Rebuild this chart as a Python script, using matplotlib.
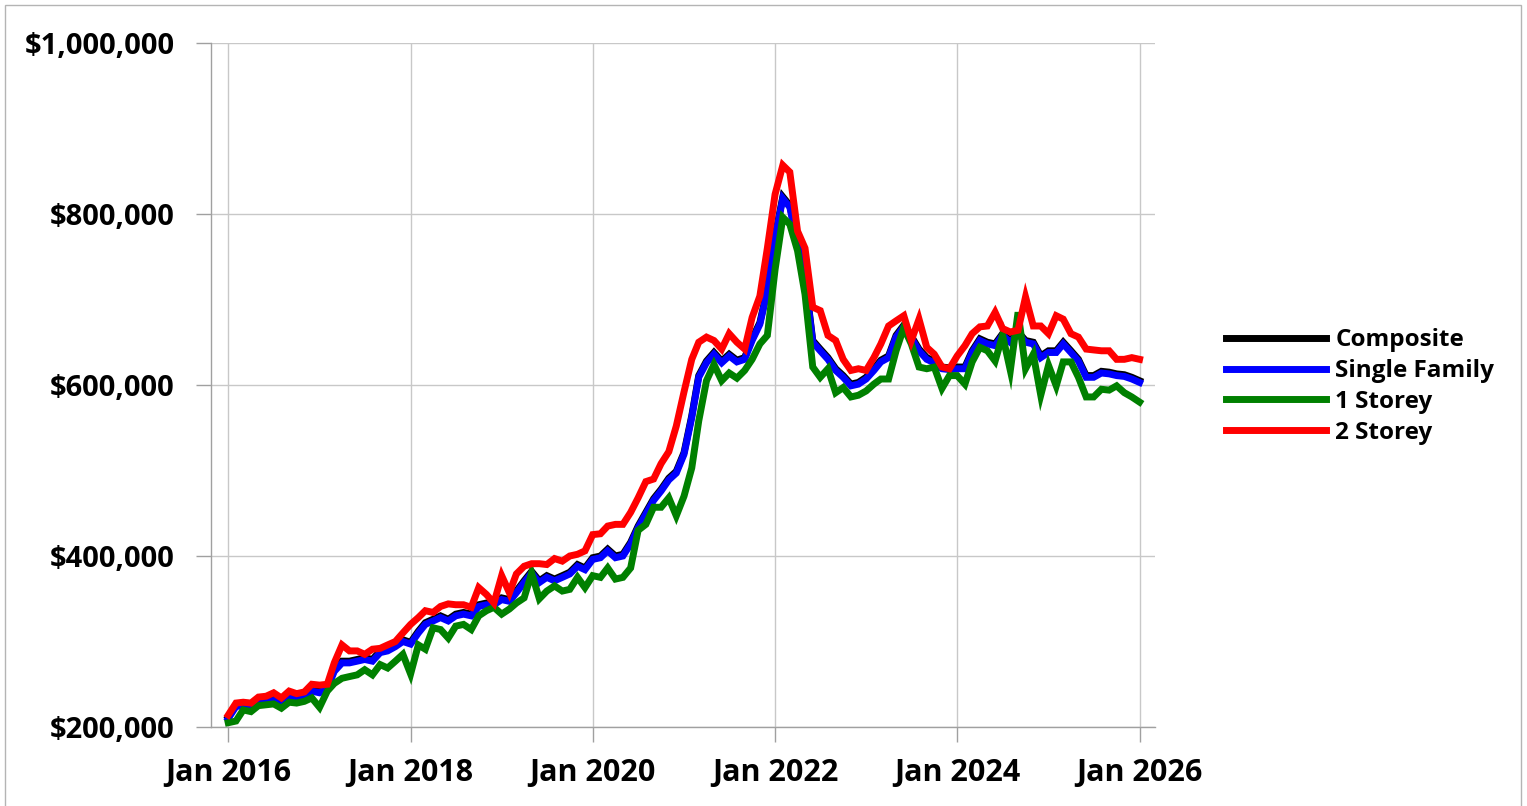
import pandas as pd
import matplotlib
matplotlib.use("Agg")
import matplotlib.pyplot as plt
import matplotlib.dates as mdates
from matplotlib.patches import Rectangle
from matplotlib.ticker import FuncFormatter

plt.rcParams['font.family'] = ['Open Sans', 'Lato', 'DejaVu Sans']
plt.rcParams['font.weight'] = 'bold'

# monthly benchmark prices, in thousands of dollars
months = pd.date_range('2016-01-01', periods=121, freq='MS')

composite = [212, 226, 227, 225, 230, 232, 233, 230, 236, 236, 238, 244,
             242, 247, 267, 277, 277, 279, 281, 279, 289, 291, 296, 302,
             299, 312, 322, 326, 330, 326, 332, 334, 332, 343, 345, 345,
             351, 349, 359, 371, 382, 371, 377, 373, 377, 381, 390, 386,
             398, 400, 408, 400, 402, 416, 435, 451, 467, 478, 491, 499,
             521, 564, 611, 628, 638, 628, 636, 629, 632, 654, 673, 712,
             774, 820, 810, 767, 727, 652, 642, 632, 619, 611, 601, 603,
             609, 619, 629, 634, 658, 670, 657, 642, 632, 628, 621, 620,
             621, 621, 640, 654, 650, 648, 660, 652, 662, 652, 650, 634,
             640, 640, 650, 640, 630, 611, 611, 616, 615, 613, 612, 609,
             605]

single_family = [210, 224, 225, 223, 228, 230, 231, 228, 234, 234, 236, 242,
                 240, 245, 265, 275, 275, 277, 279, 277, 287, 289, 294, 300,
                 297, 310, 320, 324, 328, 324, 330, 332, 330, 341, 343, 343,
                 349, 347, 357, 369, 380, 369, 375, 371, 375, 379, 388, 384,
                 396, 398, 406, 398, 400, 414, 433, 449, 465, 476, 489, 497,
                 519, 562, 609, 626, 636, 626, 634, 627, 630, 652, 671, 710,
                 772, 818, 808, 765, 725, 650, 640, 630, 617, 609, 599, 601,
                 607, 617, 627, 632, 656, 668, 655, 640, 630, 626, 619, 618,
                 619, 619, 638, 652, 648, 646, 658, 650, 660, 650, 648, 632,
                 638, 638, 648, 638, 628, 609, 609, 614, 613, 611, 610, 607,
                 603]

one_storey = [205, 207, 220, 218, 225, 226, 227, 222, 229, 228, 230, 234,
              223, 242, 251, 257, 259, 261, 267, 261, 273, 269, 277, 285,
              262, 296, 291, 316, 314, 304, 318, 320, 314, 330, 336, 340,
              332, 338, 345, 351, 380, 350, 359, 365, 359, 361, 375, 363,
              377, 375, 386, 373, 375, 386, 430, 437, 457, 457, 468, 447,
              470, 503, 558, 605, 624, 605, 614, 608, 617, 630, 648, 658,
              735, 796, 788, 757, 706, 621, 609, 619, 591, 597, 586, 588,
              593, 601, 607, 607, 640, 667, 648, 621, 619, 621, 596, 611,
              611, 601, 627, 644, 640, 628, 658, 617, 685, 619, 636, 588,
              623, 599, 627, 627, 609, 586, 586, 595, 594, 599, 591, 586,
              580]

two_storey = [214, 228, 229, 228, 235, 236, 240, 234, 242, 239, 241, 250,
              249, 250, 275, 296, 289, 289, 285, 291, 292, 296, 300, 310,
              320, 328, 336, 334, 341, 344, 343, 343, 340, 363, 355, 345,
              377, 357, 379, 388, 391, 391, 390, 397, 394, 400, 402, 406,
              425, 426, 435, 437, 437, 451, 468, 487, 490, 508, 522, 552,
              592, 630, 650, 656, 652, 642, 660, 650, 642, 679, 704, 760,
              823, 857, 849, 780, 760, 691, 687, 658, 652, 630, 617, 619,
              617, 632, 648, 669, 675, 681, 652, 677, 644, 636, 621, 619,
              634, 646, 660, 668, 669, 685, 666, 662, 664, 703, 669, 669,
              660, 681, 677, 660, 656, 642, 641, 640, 640, 630, 630, 632,
              630]

series_names = ['Composite', 'Single Family', '1 Storey', '2 Storey']
series_colors = ['#000000', '#0000ff', '#008000', '#ff0000']
tick_years = [2016, 2018, 2020, 2022, 2024, 2026]

fig = plt.figure(figsize=(15.27, 8.06), dpi=100)
ax = fig.add_axes([0.1382, 0.098, 0.6182, 0.8487])

for vals, name, col in zip([composite, single_family, one_storey, two_storey],
                           series_names, series_colors):
    ax.plot(months, vals, color=col, lw=5.0, label=name, solid_joinstyle='miter')

ax.set_xlim(pd.Timestamp('2015-10-24'), pd.Timestamp('2026-03-04'))
ax.set_ylim(200, 1000)

ax.set_xticks([pd.Timestamp(f'{y}-01-01') for y in tick_years])
ax.xaxis.set_major_formatter(mdates.DateFormatter('%b %Y'))
ax.set_yticks([200, 400, 600, 800, 1000])
ax.yaxis.set_major_formatter(FuncFormatter(lambda v, p: '${:,.0f}'.format(v * 1000)))

ax.grid(True, color='#c8c8c8', lw=1.0)
ax.set_axisbelow(True)
for s in ['top', 'right']:
    ax.spines[s].set_visible(False)
for s in ['left', 'bottom']:
    ax.spines[s].set_color('#a0a0a0')
    ax.spines[s].set_linewidth(1.0)

ax.tick_params(axis='both', length=11, width=1.0, color='#a0a0a0', labelsize=21)
ax.tick_params(axis='y', pad=15)
ax.tick_params(axis='x', pad=11, labelsize=22)

fig.legend(loc='center left', bbox_to_anchor=(1226 / 1527, 1 - 386.5 / 806),
           frameon=False, prop={'weight': 'bold', 'size': 17.5},
           handlelength=4.1, handletextpad=0.4, labelspacing=0.28,
           borderpad=0, borderaxespad=0)

# thin frame round the whole picture
fig.patches.append(Rectangle((5 / 1527, -0.01), 1516 / 1527, 1 - 5 / 806 + 0.01,
                             transform=fig.transFigure, fill=False,
                             edgecolor='#b4b4b4', lw=1.0))

fig.savefig('out.png', dpi=100)
